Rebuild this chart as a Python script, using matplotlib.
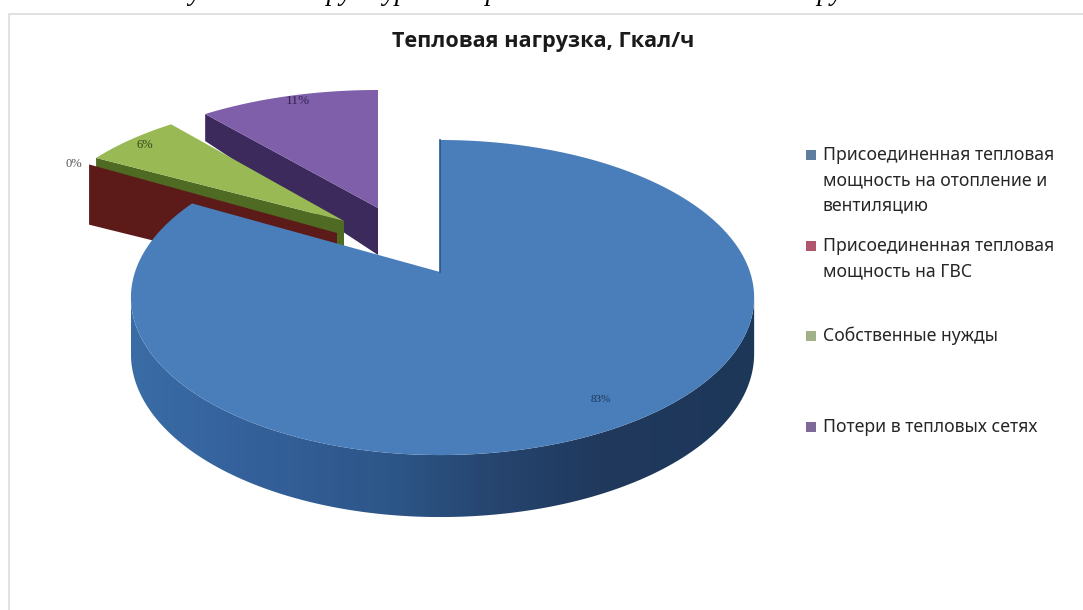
import numpy as np
import matplotlib.pyplot as plt
from matplotlib.colors import LinearSegmentedColormap
from matplotlib.patches import Polygon, Rectangle

# Данные диаграммы
categories = ['Присоединенная тепловая\nмощность на отопление и\nвентиляцию',
              'Присоединенная тепловая\nмощность на ГВС',
              'Собственные нужды',
              'Потери в тепловых сетях']
shares = [83, 0, 6, 11]
share_labels = ['83%', '0%', '6%', '11%']
legend_colors = ['#5f7d9f', '#b0566c', '#a3b18a', '#7d6a99']

top_colors = ['#4a7ebb', '#7a2a28', '#98b954', '#7f5fa9']
wall_colors = ['#2f5a8c', '#5c1b18', '#4f6a22', '#3c2a5c']

# Вынос секторов: вершина на картинке, масштаб и глубина (у вершины, наклон)
apex_x = [440, 337, 344, 378]
apex_y = [272, 233, 221, 208]
scale_y = [1.0, 1.0, 0.92, 0.894]
depth0 = [55, 53, 28, 47]
depth_k = [-7, 15, -20, -26]

RY, PERSP = 153.4, 0.162


def project(i, theta, r=1.0):
    # theta в градусах по часовой от 12 часов
    t = np.radians(theta)
    xx, yy = r * np.sin(t), r * np.cos(t)
    d = 1 + PERSP * yy
    rx = np.where(xx > 0, 310, 305)
    return apex_x[i] + rx * xx / d, apex_y[i] - RY * yy / d * scale_y[i], depth0[i] + depth_k[i] * yy


def top_face(i, a, b):
    th = np.linspace(a, b, 200)
    xs, ys, _ = project(i, th)
    return np.vstack([[apex_x[i], apex_y[i]], np.column_stack([xs, ys])])


def radial_wall(i, theta):
    x1, y1, d1 = project(i, theta)
    d0 = depth0[i]
    return [(apex_x[i], apex_y[i]), (x1, y1), (x1, y1 + d1), (apex_x[i], apex_y[i] + d0)]


# Углы секторов
edges = np.cumsum([0] + shares) * 3.6

fig = plt.figure(figsize=(10.83, 6.10), dpi=100)
ax = fig.add_axes([0, 0, 1, 1])
ax.set_xlim(0, 1083)
ax.set_ylim(610, 0)
ax.axis('off')

# Рамка области диаграммы
ax.add_patch(Rectangle((9, 14), 1100, 620, fc='white', ec='#dcdcdc', lw=1.2))

# Подпись над рамкой, срезанная верхним краем
ax.text(147, 0, 'Рисунок 3 – Структура', family='Liberation Serif',
        style='italic', fontsize=19.5, va='baseline', ha='left', color='black')
ax.text(472, 0, 'присоединенной тепловой нагрузки', family='Liberation Serif',
        style='italic', fontsize=19.5, va='baseline', ha='left', color='black')

# Потери
ax.add_patch(Polygon(radial_wall(3, edges[3]), fc=wall_colors[3], ec='none', zorder=2))
ax.add_patch(Polygon(top_face(3, edges[3], edges[4]), fc=top_colors[3], ec='none', zorder=3))

# Собственные нужды и ГВС
ax.add_patch(Polygon(radial_wall(2, edges[2]), fc=wall_colors[2], ec='none', zorder=4))
ax.add_patch(Polygon(radial_wall(1, edges[1]), fc=wall_colors[1], ec='none', zorder=5))
ax.add_patch(Polygon(top_face(2, edges[2], edges[3]), fc=top_colors[2], ec='none', zorder=6))

# Боковая поверхность большого сектора с плавным затемнением (только передняя дуга)
side_cmap = LinearSegmentedColormap.from_list(
    'side', [(0, '#3a6ca6'), (0.2, '#34609a'), (0.42, '#2d5688'), (0.58, '#26456f'),
             (0.75, '#20395d'), (1, '#1d3759')])
th = np.linspace(edges[0], edges[1], 800)
xs, ys, ds = project(0, th)
i_right, i_left = np.argmax(xs), np.argmin(xs)
fx, fy, fd = xs[i_right:i_left + 1], ys[i_right:i_left + 1], ds[i_right:i_left + 1]
band = np.vstack([np.column_stack([fx, fy]), np.column_stack([fx, fy + fd])[::-1]])
clip = Polygon(band, transform=ax.transData, fc='none', ec='none')
ax.add_patch(clip)
grad = ax.imshow(np.linspace(0, 1, 256)[None, :], cmap=side_cmap, aspect='auto', zorder=7,
                 extent=(fx.min(), fx.max(), (fy + fd).max(), ys.min()))
grad.set_clip_path(clip)
ax.set_xlim(0, 1083)
ax.set_ylim(610, 0)
ax.add_patch(Polygon(top_face(0, edges[0], edges[1]), fc=top_colors[0], ec='none', zorder=8))
x_top, y_top, _ = project(0, edges[0])
ax.plot([apex_x[0], x_top], [apex_y[0], y_top], color='#2a5688', lw=1.2, zorder=9)

# Подписи долей
label_pos = [(601, 400), (74, 164), (145, 145), (298, 101)]
label_colors = ['#1d3557', '#555555', '#33491a', '#33234f']
label_sizes = [8, 9, 9, 9.5]
for lab, (lx, ly), c, s in zip(share_labels, label_pos, label_colors, label_sizes):
    ax.text(lx, ly, lab, family='Liberation Serif', fontsize=s, ha='center', va='center', color=c, zorder=10)

# Заголовок
ax.text(543, 42, 'Тепловая нагрузка, Гкал/ч', family='Open Sans', fontsize=15.6, fontweight='bold',
        ha='center', va='center', color='#1a1a1a')

# Легенда
legend_y = [155, 246, 336, 427]
for name, ly, c in zip(categories, legend_y, legend_colors):
    ax.add_patch(Rectangle((806, ly - 5), 10, 10, fc=c, ec='none'))
    ax.text(823, ly - 9, name, family='Noto Sans', fontsize=12.7, ha='left', va='top',
            color='#262626', linespacing=1.5)

plt.savefig('out.png', dpi=100)
